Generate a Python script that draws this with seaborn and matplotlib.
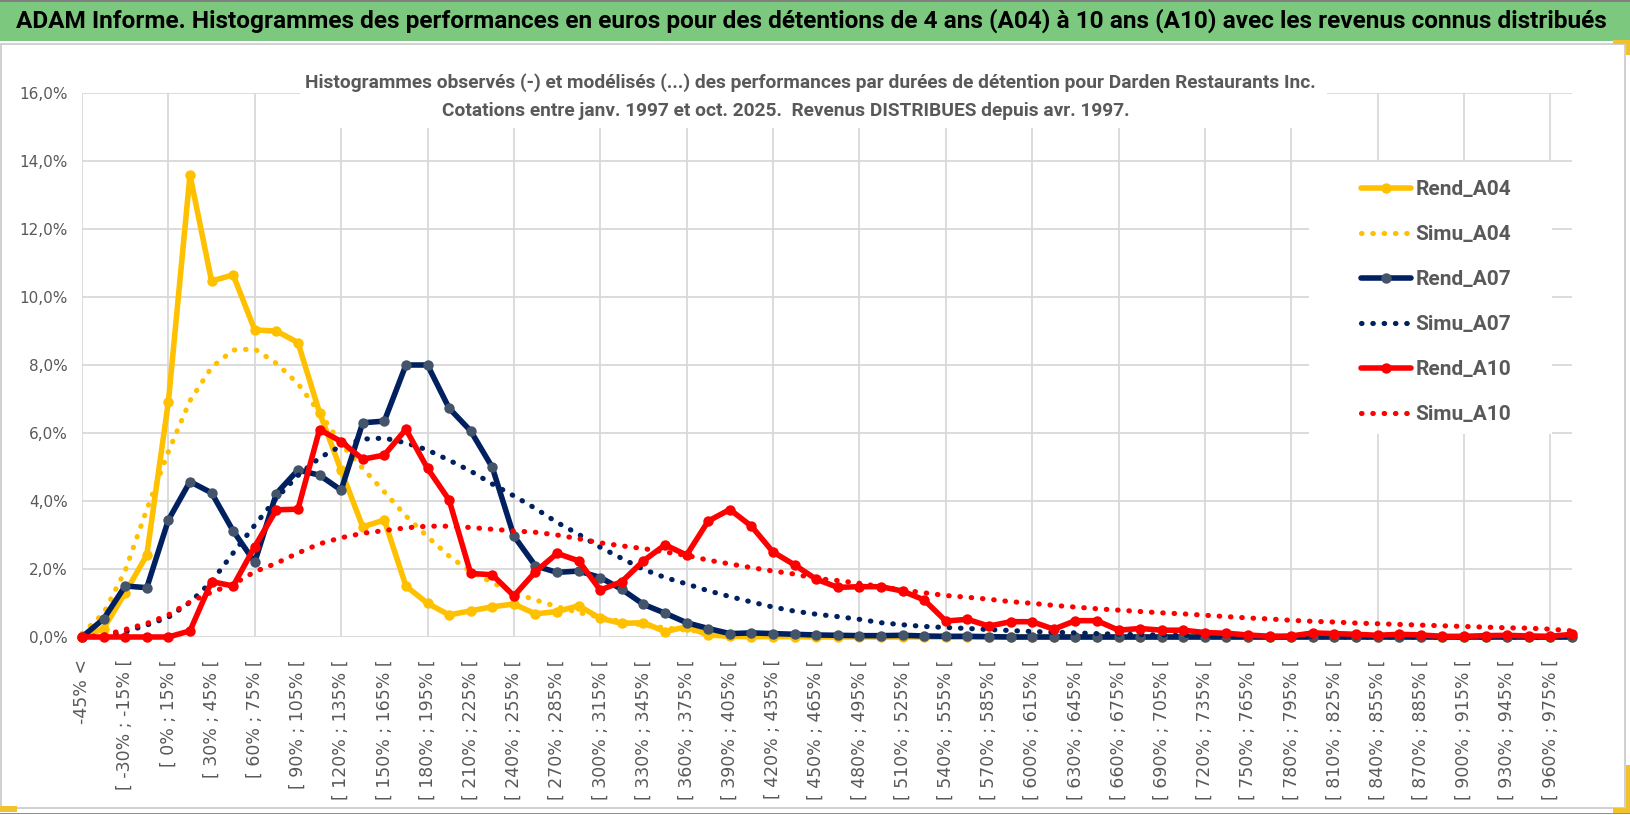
import numpy as np
import matplotlib
matplotlib.use("Agg")
import matplotlib.pyplot as plt
from matplotlib.patches import Rectangle
import seaborn as sns

W, H = 1630, 815

# bins of 15 % : first open bin, then [ a% ; a+15% [
bin_starts = list(range(-45, 976, 15))
categories = ["-45% <"] + [f"[ {a}% ; {a + 15}% [" for a in bin_starts]

rend_a04 = [0.0, 0.25, 1.3, 2.41, 6.92, 13.59, 10.47, 10.65, 9.03, 9.0,
            8.66, 6.6, 4.9, 3.24, 3.44, 1.5, 0.99, 0.65, 0.77, 0.89,
            0.97, 0.68, 0.75, 0.92, 0.55, 0.4, 0.42, 0.16, 0.3, 0.06,
            0.02, 0.01, 0.01, 0.01, 0.0, 0.0, 0.0, 0.0, 0.0, 0.0,
            0.0, 0.0, 0.0, 0.0, 0.0, 0.0, 0.0, 0.0, 0.0, 0.0,
            0.0, 0.0, 0.0, 0.0, 0.0, 0.0, 0.0, 0.0, 0.0, 0.0,
            0.0, 0.0, 0.0, 0.0, 0.0, 0.0, 0.0, 0.0, 0.0, 0.0]
simu_a04 = [0.1, 0.7, 1.95, 3.75, 5.45, 6.95, 7.93, 8.44, 8.47, 8.05,
            7.45, 6.6, 5.68, 4.96, 4.27, 3.56, 2.95, 2.38, 1.92, 1.6,
            1.3, 1.09, 0.89, 0.72, 0.58, 0.45, 0.35, 0.27, 0.2, 0.15,
            0.11, 0.08, 0.06, 0.04, 0.03, 0.02, 0.01, 0.0, 0.0, 0.0,
            0.0, 0.0, 0.0, 0.0, 0.0, 0.0, 0.0, 0.0, 0.0, 0.0,
            0.0, 0.0, 0.0, 0.0, 0.0, 0.0, 0.0, 0.0, 0.0, 0.0,
            0.0, 0.0, 0.0, 0.0, 0.0, 0.0, 0.0, 0.0, 0.0, 0.0]
rend_a07 = [0.0, 0.53, 1.5, 1.45, 3.44, 4.57, 4.24, 3.12, 2.2, 4.22,
            4.91, 4.76, 4.32, 6.3, 6.35, 8.0, 8.0, 6.73, 6.06, 4.99,
            2.97, 2.09, 1.9, 1.94, 1.75, 1.4, 0.96, 0.7, 0.42, 0.25,
            0.1, 0.12, 0.1, 0.08, 0.06, 0.05, 0.04, 0.04, 0.05, 0.03,
            0.02, 0.02, 0.01, 0.0, 0.0, 0.0, 0.0, 0.0, 0.0, 0.0,
            0.0, 0.0, 0.0, 0.0, 0.0, 0.0, 0.0, 0.0, 0.0, 0.0,
            0.0, 0.0, 0.0, 0.0, 0.0, 0.0, 0.0, 0.0, 0.0, 0.0]
simu_a07 = [0.0, 0.02, 0.15, 0.35, 0.58, 1.02, 1.63, 2.47, 3.29, 4.08,
            4.75, 5.27, 5.62, 5.82, 5.85, 5.71, 5.5, 5.2, 4.88, 4.5,
            4.15, 3.78, 3.37, 3.02, 2.64, 2.31, 1.99, 1.75, 1.56, 1.36,
            1.19, 1.03, 0.88, 0.76, 0.67, 0.6, 0.52, 0.42, 0.36, 0.31,
            0.28, 0.25, 0.22, 0.19, 0.16, 0.14, 0.12, 0.1, 0.08, 0.07,
            0.06, 0.05, 0.04, 0.03, 0.03, 0.02, 0.02, 0.01, 0.0, 0.0,
            0.0, 0.0, 0.0, 0.0, 0.0, 0.0, 0.0, 0.0, 0.0, 0.0]
rend_a10 = [0.0, 0.0, 0.0, 0.0, 0.0, 0.18, 1.63, 1.5, 2.66, 3.74,
            3.76, 6.1, 5.75, 5.23, 5.35, 6.11, 4.96, 4.03, 1.87, 1.83,
            1.21, 1.92, 2.46, 2.24, 1.38, 1.63, 2.24, 2.71, 2.41, 3.41,
            3.75, 3.26, 2.5, 2.12, 1.7, 1.46, 1.48, 1.48, 1.35, 1.09,
            0.47, 0.52, 0.32, 0.45, 0.45, 0.23, 0.48, 0.48, 0.2, 0.25,
            0.2, 0.2, 0.13, 0.11, 0.06, 0.02, 0.03, 0.12, 0.1, 0.08,
            0.05, 0.08, 0.06, 0.02, 0.02, 0.04, 0.05, 0.03, 0.02, 0.08]
simu_a10 = [0.0, 0.05, 0.22, 0.4, 0.65, 1.03, 1.32, 1.55, 1.92, 2.17,
            2.47, 2.74, 2.92, 3.05, 3.13, 3.21, 3.26, 3.26, 3.22, 3.17,
            3.12, 3.08, 3.0, 2.89, 2.77, 2.68, 2.6, 2.5, 2.4, 2.26,
            2.15, 2.04, 1.94, 1.85, 1.72, 1.66, 1.58, 1.48, 1.38, 1.3,
            1.22, 1.17, 1.11, 1.04, 0.99, 0.93, 0.88, 0.83, 0.79, 0.75,
            0.71, 0.68, 0.64, 0.6, 0.56, 0.53, 0.49, 0.46, 0.44, 0.41,
            0.39, 0.37, 0.35, 0.33, 0.31, 0.29, 0.27, 0.26, 0.23, 0.18]

y_ticks = [0, 2, 4, 6, 8, 10, 12, 14, 16]

header = ("ADAM Informe. Histogrammes des performances en euros pour des détentions "
          "de 4 ans (A04) à 10 ans (A10) avec les revenus connus distribués")
subtitle_1 = ("Histogrammes observés (-) et modélisés (...) des performances par durées "
              "de détention pour Darden Restaurants Inc.")
subtitle_2 = "Cotations entre janv. 1997 et oct. 2025.  Revenus DISTRIBUES depuis avr. 1997."

YELLOW, NAVY, RED = "#FFC000", "#002060", "#FF0000"
GREY_TXT = "#595959"
GRID = "#D9D9D9"
NARROW = ["Liberation Sans Narrow", "Roboto", "DejaVu Sans"]

sns.set_style("white")
plt.rcParams["font.family"] = ["DejaVu Sans"]


def fx(x):
    return x / W


def fy(y):
    return 1 - y / H


fig = plt.figure(figsize=(W / 100, H / 100), dpi=100)
fig.patch.set_facecolor("white")

# green header band
fig.add_artist(Rectangle((0, fy(41)), 1, 41 / H, transform=fig.transFigure,
                         facecolor="#7DC87F", edgecolor="none", zorder=0))
fig.add_artist(Rectangle((0, fy(2)), 1, 2 / H, transform=fig.transFigure,
                         facecolor="#808080", edgecolor="none", zorder=0))
fig.text(fx(16), fy(21), header, ha="left", va="center", fontsize=17.6,
         fontweight="bold", color="black", family=NARROW)

# chart frame
fig.add_artist(Rectangle((fx(1), fy(808)), fx(1625) - fx(1), fy(44) - fy(808),
                         transform=fig.transFigure, facecolor="none",
                         edgecolor="#C8C8C8", lw=1.2, zorder=0))
fig.add_artist(Rectangle((0, fy(814)), 1, 1.5 / H, transform=fig.transFigure,
                         facecolor="#909090", edgecolor="none", zorder=0))
for (x0, y0, w, h) in [(0, 806, 17, 6), (1613, 40, 17, 4), (1626, 40, 4, 15),
                       (1626, 765, 4, 48), (1613, 808, 17, 5)]:
    fig.add_artist(Rectangle((fx(x0), fy(y0 + h)), w / W, h / H,
                             transform=fig.transFigure, facecolor="#F2C12E",
                             edgecolor="none", zorder=3))

ax = fig.add_axes([fx(82), fy(637), fx(1572) - fx(82), fy(93) - fy(637)])
xs = np.arange(len(categories))

series = [
    ("Rend_A04", rend_a04, YELLOW, "solid", YELLOW),
    ("Simu_A04", simu_a04, YELLOW, "dot", None),
    ("Rend_A07", rend_a07, NAVY, "solid", "#44546A"),
    ("Simu_A07", simu_a07, NAVY, "dot", None),
    ("Rend_A10", rend_a10, RED, "solid", RED),
    ("Simu_A10", simu_a10, RED, "dot", None),
]
for name, vals, color, kind, mfc in series:
    if kind == "solid":
        sns.lineplot(x=xs, y=vals, ax=ax, color=color, lw=4.0, marker="o",
                     markersize=7.5, markerfacecolor=mfc, markeredgecolor=mfc,
                     markeredgewidth=0, label=name, clip_on=False)
    else:
        sns.lineplot(x=xs, y=vals, ax=ax, color=color, lw=3.7,
                     linestyle=(0, (0.1, 2.1)), dash_capstyle="round",
                     label=name, clip_on=False)

handles, labels = ax.get_legend_handles_labels()
if ax.get_legend() is not None:
    ax.get_legend().remove()

ax.set_xlim(0, len(categories) - 1)
ax.set_ylim(0, 16)
ax.set_xlabel("")
ax.set_ylabel("")
for s in ax.spines.values():
    s.set_visible(False)
ax.set_axisbelow(True)

ax.set_yticks(y_ticks)
ax.set_yticklabels([f"{v:.1f}%".replace(".", ",") for v in y_ticks])
ax.yaxis.grid(True, color=GRID, lw=1.3)
ax.tick_params(axis="y", length=0, pad=10, labelsize=11, labelcolor=GREY_TXT)

ax.set_xticks(xs[::2])
ax.set_xticklabels(categories[::2], rotation=90, va="top", ha="center")
ax.set_xticks(xs[::4], minor=True)
ax.xaxis.remove_overlapping_locs = False
ax.grid(which="minor", axis="x", color=GRID, lw=1.3)
ax.tick_params(axis="x", which="minor", length=6, width=1.3, color=GRID)
ax.tick_params(axis="x", which="major", length=0, pad=16, labelsize=12.5,
               labelcolor=GREY_TXT)

# white boxes behind chart title and legend
fig.add_artist(Rectangle((fx(300), fy(128)), (1327 - 300) / W, (128 - 55) / H,
                         transform=fig.transFigure, facecolor="white",
                         edgecolor="none", zorder=1))
fig.add_artist(Rectangle((fx(1309), fy(434)), (1552 - 1309) / W, (434 - 162) / H,
                         transform=fig.transFigure, facecolor="white",
                         edgecolor="none", zorder=1))

fig.text(fx(810), fy(83), subtitle_1, ha="center", va="center", fontsize=13.8,
         fontweight="bold", color=GREY_TXT, family=NARROW, zorder=2)
fig.text(fx(786), fy(111), subtitle_2, ha="center", va="center", fontsize=13.8,
         fontweight="bold", color=GREY_TXT, family=NARROW, zorder=2)

fig.legend(handles, labels, loc="upper left", bbox_to_anchor=(fx(1361), fy(180)),
           frameon=False, borderpad=0, borderaxespad=0, numpoints=1,
           handlelength=2.4, handletextpad=0.2, labelspacing=1.25,
           prop={"family": NARROW, "weight": "bold", "size": 15},
           labelcolor=GREY_TXT)

fig.savefig("out.png", dpi=100)
